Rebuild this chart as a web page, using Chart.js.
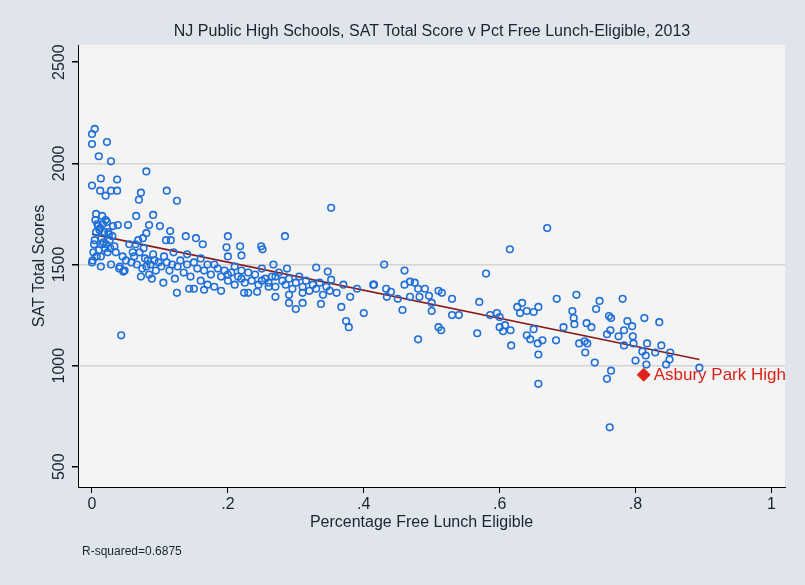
<!DOCTYPE html>
<html>
<head>
<meta charset="utf-8">
<script src="https://cdn.jsdelivr.net/npm/chart.js@4.4.0/dist/chart.umd.min.js"></script>
<style>
  html, body { margin: 0; padding: 0; background: #dfe5ea; }
  #wrap { width: 805px; height: 585px; }
</style>
</head>
<body>
<div id="wrap"><canvas id="satChart" width="805" height="585"></canvas></div>
<script>
// Percentage free lunch eligible (x) and SAT total score (y), one entry per school
const fracLunch = [
  0.004, 0, 0, 0.022, 0.01, 0.028, 0.08, 0.013, 0.037, 0, 0.012, 0.028, 0.037, 0.02, 0.072, 0.069, 0.11, 0.125, 0.352,
  0.065, 0.09, 0.084, 0.10, 0.115, 0.053, 0.038, 0.08, 0.075, 0.109, 0.116, 0.138, 0.153, 0.163, 0.2, 0.198, 0.218, 0.249, 0.251, 0.284, 0.22, 0.2,
  0.125, 0.143, 0.165, 0.224, 0.243, 0.27, 0.29, 0.3, 0.31, 0.337, 0.367, 0.4, 0.374, 0.378, 0.043, 0.088, 0.105, 0.013, 0.028, 0.041, 0.046,
  0.33, 0.347, 0.352, 0.414, 0.267, 0.287,
  0.005, 0.008, 0.012, 0.015, 0.018, 0.022, 0.025, 0.003, 0.006, 0.009, 0.014, 0.017, 0.02, 0.024, 0.03, 0.033, 0.002, 0.007, 0.011, 0.016,
  0.019, 0.026, 0.001, 0.004, 0.01, 0.013, 0.021, 0.027, 0.031, 0.035, 0.0, 0.006, 0.015, 0.023, 0.04, 0.045, 0.05, 0.055, 0.06, 0.048,
  0.058, 0.062, 0.066, 0.07, 0.074, 0.078, 0.082, 0.086, 0.09, 0.094, 0.098, 0.102, 0.106, 0.068, 0.076, 0.084, 0.092, 0.064, 0.072, 0.08,
  0.11, 0.114, 0.118, 0.122, 0.126, 0.13, 0.135, 0.14, 0.145, 0.15, 0.155, 0.16, 0.165, 0.17, 0.175, 0.18, 0.185, 0.19, 0.195, 0.2,
  0.205, 0.21, 0.215, 0.22, 0.225, 0.23, 0.235, 0.24, 0.245, 0.25, 0.255, 0.26, 0.265, 0.27, 0.275, 0.28, 0.285, 0.29, 0.295, 0.3,
  0.305, 0.31, 0.315, 0.32, 0.325, 0.33, 0.335, 0.34, 0.345, 0.35, 0.36, 0.37, 0.38, 0.39, 0.12, 0.14, 0.16, 0.18, 0.15, 0.17, 0.19, 0.21, 0.23, 0.25, 0.27, 0.29, 0.31, 0.2, 0.22, 0.26,
  0.43, 0.46, 0.415, 0.433, 0.44, 0.434, 0.45, 0.457, 0.46, 0.468, 0.475, 0.48, 0.49, 0.468, 0.482, 0.496, 0.50, 0.50, 0.51, 0.515,
  0.53, 0.53, 0.54, 0.51, 0.514, 0.48, 0.567, 0.57, 0.58, 0.615, 0.67, 0.586, 0.596, 0.60, 0.60, 0.605, 0.608, 0.616, 0.617, 0.626,
  0.633, 0.63, 0.64, 0.65, 0.657, 0.64, 0.645, 0.65, 0.656, 0.663, 0.657, 0.657, 0.684, 0.683, 0.694, 0.707, 0.709, 0.71, 0.713, 0.717,
  0.725, 0.729, 0.726, 0.728, 0.735, 0.74, 0.742, 0.747, 0.761, 0.764, 0.763, 0.758, 0.775, 0.781, 0.783, 0.788, 0.795, 0.796, 0.797, 0.783,
  0.764, 0.758, 0.762, 0.80, 0.813, 0.817, 0.81, 0.815, 0.816, 0.829, 0.835, 0.838, 0.851, 0.85, 0.845, 0.894
];
const satScore = [
  2170, 2145, 2095, 2105, 2035, 2010, 1960, 1925, 1920, 1890, 1865, 1865, 1865, 1840, 1855, 1820, 1865, 1815, 1780,
  1740, 1745, 1695, 1690, 1665, 1695, 1695, 1655, 1630, 1620, 1620, 1640, 1630, 1600, 1640, 1585, 1590, 1590, 1575, 1640, 1545, 1540,
  1360, 1380, 1375, 1360, 1365, 1340, 1310, 1280, 1310, 1305, 1290, 1260, 1220, 1190, 1150, 1430, 1410, 1490, 1500, 1490, 1465,
  1485, 1465, 1425, 1400, 1500, 1480,
  1720, 1700, 1680, 1740, 1660, 1710, 1650, 1600, 1750, 1690, 1630, 1610, 1720, 1660, 1640, 1590, 1560, 1540, 1670, 1700,
  1580, 1620, 1520, 1620, 1570, 1540, 1600, 1580, 1690, 1560, 1510, 1660, 1600, 1560, 1480, 1540, 1520, 1600, 1560, 1470,
  1510, 1540, 1500, 1560, 1480, 1530, 1520, 1500, 1550, 1470, 1510, 1490, 1540, 1620, 1580, 1450, 1520, 1600, 1440, 1490,
  1510, 1470, 1500, 1430, 1490, 1520, 1460, 1500, 1440, 1510, 1480, 1420, 1470, 1500, 1450, 1390, 1480, 1440, 1470, 1420,
  1460, 1490, 1440, 1470, 1410, 1460, 1420, 1450, 1400, 1480, 1430, 1410, 1440, 1390, 1460, 1420, 1400, 1430, 1380, 1410,
  1440, 1390, 1420, 1370, 1400, 1380, 1410, 1350, 1390, 1370, 1360, 1400, 1340, 1380, 1560, 1550, 1530, 1500, 1380, 1400, 1370, 1400, 1360, 1420, 1440, 1350, 1360, 1450, 1430, 1390,
  1500, 1470, 1400, 1380, 1365, 1340, 1330, 1275, 1400, 1415, 1410, 1380, 1380, 1340, 1340, 1345, 1310, 1270, 1370, 1360,
  1330, 1250, 1250, 1190, 1175, 1130, 1160, 1315, 1455, 1575, 1680, 1250, 1260, 1240, 1190, 1170, 1200, 1175, 1100, 1290,
  1310, 1260, 1270, 1265, 1290, 1150, 1130, 1180, 1110, 1125, 1055, 910, 1330, 1125, 1190, 1270, 1235, 1205, 1350, 1110,
  1120, 1110, 1065, 1210, 1190, 1015, 1280, 1320, 1245, 1235, 1175, 1155, 1145, 1330, 1175, 1220, 1195, 1145, 1110, 1100,
  975, 935, 695, 1025, 1235, 1110, 1070, 1050, 1005, 1065, 1215, 1100, 1065, 1030, 1005, 990
];
const fitX = [0, 0.894];
const fitY = [1650, 1030];
const highlightName = "Asbury Park High";
const highlightX = 0.812;
const highlightY = 955;
const xTicks = [0, 0.2, 0.4, 0.6, 0.8, 1];
const yTicks = [500, 1000, 1500, 2000, 2500];

const textColor = "#1c2434";

const labelsPlugin = {
  id: "statalabels",
  beforeDraw(chart) {
    const { ctx, chartArea: a } = chart;
    ctx.save();
    ctx.fillStyle = "#f4f4f4";
    ctx.fillRect(a.left, a.top, a.right - a.left, a.bottom - a.top);
    ctx.restore();
  },
  afterDraw(chart) {
    const { ctx, chartArea: a, scales } = chart;
    ctx.save();
    ctx.fillStyle = textColor;
    // y tick labels, vertical
    ctx.font = "16px 'Liberation Sans', Arial, sans-serif";
    ctx.textAlign = "center";
    ctx.textBaseline = "bottom";
    yTicks.forEach(v => {
      const y = scales.y.getPixelForValue(v);
      ctx.save();
      ctx.translate(a.left - 10, y);
      ctx.rotate(-Math.PI / 2);
      ctx.fillText(String(v), 0, 0);
      ctx.restore();
    });
    // axis titles
    ctx.font = "16px 'Liberation Sans', Arial, sans-serif";
    ctx.save();
    ctx.translate(40, (a.top + a.bottom) / 2);
    ctx.rotate(-Math.PI / 2);
    ctx.textBaseline = "middle";
    ctx.fillText("SAT Total Scores", 0, 0);
    ctx.restore();
    ctx.textBaseline = "middle";
    ctx.fillText("Percentage Free Lunch Eligible", (a.left + a.right) / 2 - 10, 523);
    ctx.font = "16px 'Liberation Sans', Arial, sans-serif";
    ctx.fillText("NJ Public High Schools, SAT Total Score v Pct Free Lunch-Eligible, 2013", 432, 32);
    ctx.textAlign = "left";
    ctx.font = "12px 'Liberation Sans', Arial, sans-serif";
    ctx.fillText("R-squared=0.6875", 82, 552);
    // highlighted school label
    ctx.fillStyle = "#d9231a";
    ctx.font = "17px 'Liberation Sans', Arial, sans-serif";
    ctx.fillText(highlightName, scales.x.getPixelForValue(highlightX) + 10, scales.y.getPixelForValue(highlightY) + 1);
    ctx.restore();
  }
};

new Chart(document.getElementById("satChart"), {
  type: "scatter",
  data: {
    datasets: [
      {
        label: "schools",
        data: fracLunch.map((x, i) => ({ x, y: satScore[i] })),
        pointStyle: "circle",
        pointRadius: 3.3,
        borderWidth: 1.6,
        borderColor: "#1f6fd8",
        backgroundColor: "rgba(0,0,0,0)"
      },
      {
        type: "line",
        label: "fit",
        data: fitX.map((x, i) => ({ x, y: fitY[i] })),
        borderColor: "#8b1a1a",
        borderWidth: 1.6,
        pointRadius: 0
      },
      {
        label: "highlight",
        data: [{ x: highlightX, y: highlightY }],
        pointStyle: "rectRot",
        pointRadius: 7,
        borderWidth: 0,
        backgroundColor: "#e0231a"
      }
    ]
  },
  options: {
    responsive: false,
    animation: false,
    layout: { padding: { left: 0, right: 20, top: 45, bottom: 0 } },
    plugins: { legend: { display: false }, tooltip: { enabled: false } },
    scales: {
      x: {
        type: "linear",
        min: -0.0206,
        max: 1.02,
        afterBuildTicks: s => { s.ticks = xTicks.map(v => ({ value: v })); },
        afterFit: s => { s.height = 98; },
        border: { color: "#000", width: 1 },
        grid: { drawOnChartArea: false, drawTicks: true, tickLength: 6, color: "#000" },
        ticks: {
          color: textColor,
          font: { size: 16, family: "'Liberation Sans', Arial, sans-serif" },
          padding: 2,
          maxRotation: 0,
          callback: v => (v === 0 ? "0" : v === 1 ? "1" : String(v).replace(/^0/, ""))
        }
      },
      y: {
        type: "linear",
        min: 400,
        max: 2585,
        afterBuildTicks: s => { s.ticks = yTicks.map(v => ({ value: v })); },
        afterFit: s => { s.width = 78; },
        border: { color: "#000", width: 1 },
        grid: {
          drawTicks: true,
          tickLength: 6,
          color: ctx => (ctx.tick && (ctx.tick.value === 500 || ctx.tick.value === 2500) ? "rgba(0,0,0,0)" : "#d4d4d4"),
          tickColor: "#000",
          lineWidth: 1.5
        },
        ticks: { display: false }
      }
    }
  },
  plugins: [labelsPlugin]
});
</script>
</body>
</html>
